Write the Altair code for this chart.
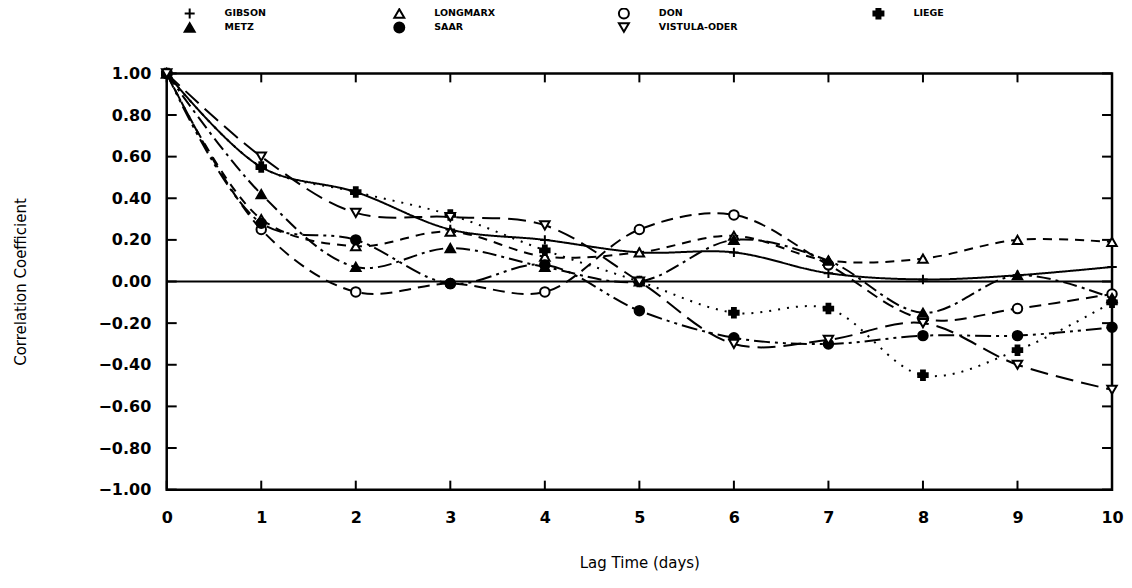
import altair as alt
import pandas as pd

lags = [0, 1, 2, 3, 4, 5, 6, 7, 8, 9, 10]
series_names = ["GIBSON", "LONGMARX", "DON", "LIEGE", "METZ", "SAAR", "VISTULA-ODER"]

gibson = [1.00, 0.55, 0.43, 0.25, 0.20, 0.14, 0.14, 0.04, 0.01, 0.03, 0.07]
longmarx = [1.00, 0.30, 0.17, 0.24, 0.12, 0.14, 0.22, 0.10, 0.11, 0.20, 0.19]
don = [1.00, 0.25, -0.05, -0.01, -0.05, 0.25, 0.32, 0.08, -0.18, -0.13, -0.06]
liege = [1.00, 0.55, 0.43, 0.32, 0.15, 0.00, -0.15, -0.13, -0.45, -0.33, -0.10]
metz = [1.00, 0.42, 0.07, 0.16, 0.07, 0.00, 0.20, 0.10, -0.15, 0.03, -0.08]
saar = [1.00, 0.28, 0.20, -0.01, 0.08, -0.14, -0.27, -0.30, -0.26, -0.26, -0.22]
vistula = [1.00, 0.60, 0.33, 0.31, 0.27, 0.00, -0.30, -0.28, -0.20, -0.40, -0.52]

x_ticks = [0, 1, 2, 3, 4, 5, 6, 7, 8, 9, 10]
y_ticks = [-1.0, -0.8, -0.6, -0.4, -0.2, 0.0, 0.2, 0.4, 0.6, 0.8, 1.0]

values = [gibson, longmarx, don, liege, metz, saar, vistula]
rows = []
for name, vals in zip(series_names, values):
    for lag, v in zip(lags, vals):
        rows.append({"series": name, "lag": lag, "r": v})
df = pd.DataFrame(rows)

legend_df = pd.DataFrame({
    "series": series_names,
    "col": [i % 4 for i in range(len(series_names))],
    "row": [i // 4 for i in range(len(series_names))],
})

shapes = ["M-1,0L1,0M0,-1L0,1", "triangle-up", "circle", "cross",
          "triangle-up", "circle", "triangle-down"]
fills = ["white", "white", "white", "black", "black", "black", "white"]
dashes = [[1, 0], [9, 7], [12, 7], [2, 7], [14, 5, 3, 5], [16, 5, 3, 5, 3, 5], [18, 8]]

W, H = 947, 417
FONT = "DejaVu Sans"

xs = alt.Scale(domain=[0, 10], nice=False, zero=False)
ys = alt.Scale(domain=[-1, 1], nice=False, zero=False)
shape_scale = alt.Scale(domain=series_names, range=shapes)
fill_scale = alt.Scale(domain=series_names, range=fills)

lines = alt.Chart(df).mark_line(
    interpolate="catmull-rom", color="black", strokeWidth=2
).encode(
    x=alt.X("lag:Q", scale=xs,
            axis=alt.Axis(values=x_ticks, format="d", title="Lag Time (days)",
                          tickSize=0, domain=False, grid=False, labelPadding=20,
                          titlePadding=30)),
    y=alt.Y("r:Q", scale=ys,
            axis=alt.Axis(values=y_ticks, format=".2f", title="Correlation Coefficient",
                          tickSize=0, domain=False, grid=False, labelPadding=16,
                          titlePadding=70)),
    strokeDash=alt.StrokeDash("series:N", scale=alt.Scale(domain=series_names, range=dashes),
                              legend=None),
    detail="series:N",
)

point_mark = dict(filled=False, stroke="black", strokeWidth=2, opacity=1, fillOpacity=1)

points = alt.Chart(df).mark_point(size=90, **point_mark).encode(
    x=alt.X("lag:Q", scale=xs),
    y=alt.Y("r:Q", scale=ys),
    shape=alt.Shape("series:N", scale=shape_scale, legend=None),
    fill=alt.Fill("series:N", scale=fill_scale, legend=None),
)

zero_df = pd.DataFrame({"z": [0.0]})
zero_line = alt.Chart(zero_df).mark_rule(color="black", strokeWidth=2).encode(
    y=alt.Y("z:Q", scale=ys), x=alt.value(0), x2=alt.value(W)
)

yt = pd.DataFrame({"v": y_ticks})
xt = pd.DataFrame({"v": x_ticks})
tick_style = dict(color="black", strokeWidth=2)
ytick_l = alt.Chart(yt).mark_rule(**tick_style).encode(
    y=alt.Y("v:Q", scale=ys), x=alt.value(0), x2=alt.value(10))
ytick_r = alt.Chart(yt).mark_rule(**tick_style).encode(
    y=alt.Y("v:Q", scale=ys), x=alt.value(W - 10), x2=alt.value(W))
xtick_b = alt.Chart(xt).mark_rule(**tick_style).encode(
    x=alt.X("v:Q", scale=xs), y=alt.value(H), y2=alt.value(H - 9))
xtick_t = alt.Chart(xt).mark_rule(**tick_style).encode(
    x=alt.X("v:Q", scale=xs), y=alt.value(0), y2=alt.value(9))

main = alt.layer(
    zero_line, ytick_l, ytick_r, xtick_b, xtick_t, lines, points
).resolve_scale(strokeDash="independent")

# legend drawn above the plot area (pixel scales relative to plot origin)
lx = alt.Scale(domain=[0, 1, 2, 3], range=[23, 233, 458, 713])
ly = alt.Scale(domain=[0, 1], range=[-60, -46])
leg_pts = alt.Chart(legend_df).mark_point(size=100, **point_mark).encode(
    x=alt.X("col:Q", scale=lx, axis=None),
    y=alt.Y("row:Q", scale=ly, axis=None),
    shape=alt.Shape("series:N", scale=shape_scale, legend=None),
    fill=alt.Fill("series:N", scale=fill_scale, legend=None),
)
leg_txt = alt.Chart(legend_df).mark_text(
    align="left", baseline="middle", dx=35, font=FONT, fontWeight="bold",
    fontSize=9.5, color="black"
).encode(
    x=alt.X("col:Q", scale=lx, axis=None),
    y=alt.Y("row:Q", scale=ly, axis=None),
    text="series:N",
)
legend = alt.layer(leg_pts, leg_txt)

chart = alt.layer(main, legend).resolve_scale(
    x="independent", y="independent", shape="independent", fill="independent"
).properties(
    width=W, height=H,
    padding={"left": 159, "top": 65, "right": 12, "bottom": 82},
    autosize=alt.AutoSizeParams(type="none"),
    background="white",
).configure_view(
    stroke="black", strokeWidth=2.5
).configure_axis(
    labelFont=FONT, labelFontWeight="bold", labelFontSize=16, labelColor="black",
    titleFont=FONT, titleFontWeight="normal", titleFontSize=15, titleColor="black",
    labelOverlap=False, labelFlush=False,
)

chart.save("out.html", embed_options={"renderer": "svg", "actions": False})
